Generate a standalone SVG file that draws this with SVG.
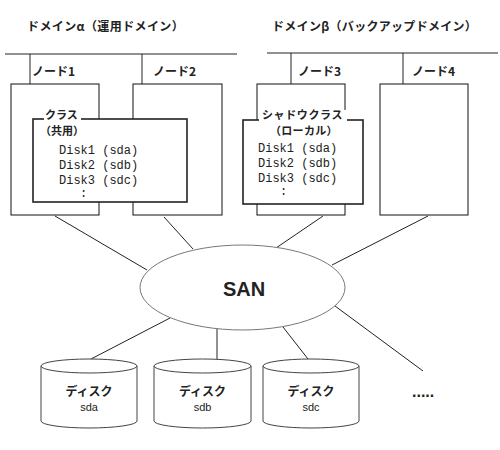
<svg xmlns="http://www.w3.org/2000/svg" width="500" height="450" viewBox="0 0 500 450">
<style>
.ln{stroke:#222;stroke-width:1;fill:none}
.box{fill:#fff;stroke:#111;stroke-width:1}
.cls{fill:#fff;stroke:#222;stroke-width:1.6}
.jp{font-family:"Noto Sans CJK JP",sans-serif;font-weight:bold;font-size:12px;fill:#222}
.jt{font-family:"Noto Sans CJK JP",sans-serif;font-weight:bold;font-size:11px;fill:#222}
.mono{font-family:"Liberation Mono",monospace;font-size:12px;fill:#222}
.cyl{fill:#fff;stroke:#444;stroke-width:1}
.san{font-family:"Liberation Sans",Arial,sans-serif;font-weight:bold;font-size:20px;fill:#222}
.small{font-family:"Liberation Sans",Arial,sans-serif;font-size:11px;fill:#222}
</style>
<rect width="500" height="450" fill="#fff"/>
<g id="domains">
<text class="jp" x="27" y="31" letter-spacing="0.4">ドメインα（運用ドメイン）</text>
<text class="jp" x="272" y="31" letter-spacing="0.3">ドメインβ（バックアップドメイン）</text>
<line class="ln" x1="5" y1="54" x2="237" y2="54"/>
<line class="ln" x1="267" y1="53" x2="498" y2="53"/>
</g>
<g id="connectors">
<line class="ln" x1="30" y1="54" x2="30" y2="84"/>
<line class="ln" x1="142" y1="54" x2="142" y2="84"/>
<line class="ln" x1="291" y1="53" x2="291" y2="84"/>
<line class="ln" x1="403" y1="53" x2="403" y2="84"/>
<line class="ln" x1="55" y1="216" x2="147" y2="270"/>
<line class="ln" x1="164" y1="217" x2="193" y2="249"/>
<line class="ln" x1="323" y1="216" x2="276" y2="248"/>
<line class="ln" x1="428" y1="216" x2="332" y2="265"/>
<line class="ln" x1="170" y1="318" x2="91" y2="359"/>
<line class="ln" x1="217" y1="329" x2="217" y2="359"/>
<line class="ln" x1="283" y1="327" x2="308" y2="359"/>
<line class="ln" x1="335" y1="306" x2="423" y2="371"/>
</g>
<g id="node1">
<rect class="box" x="11" y="84" width="88" height="131"/>
<text class="jp" x="32" y="76">ノード1</text>
</g>
<g id="node2">
<rect class="box" x="133" y="84" width="89" height="131"/>
<text class="jp" x="153" y="76">ノード2</text>
</g>
<g id="node3">
<rect class="box" x="257" y="84" width="88" height="131"/>
<text class="jp" x="298" y="76">ノード3</text>
</g>
<g id="node4">
<rect class="box" x="380" y="84" width="88" height="131"/>
<text class="jp" x="412" y="76">ノード4</text>
</g>
<g id="class-shared">
<rect class="cls" x="33" y="119" width="154" height="83"/>
<rect x="44" y="110" width="37" height="12" fill="#fff"/>
<text class="jt" x="45" y="119">クラス</text>
<text class="jt" x="40" y="135">（共用）</text>
<text class="mono" x="59" y="154">Disk1 (sda)</text>
<text class="mono" x="59" y="169">Disk2 (sdb)</text>
<text class="mono" x="59" y="184">Disk3 (sdc)</text>
<text class="mono" x="80" y="197">:</text>
</g>
<g id="class-shadow">
<rect class="cls" x="243" y="120" width="120" height="84"/>
<rect x="259" y="110" width="88" height="14" fill="#fff"/>
<text class="jt" x="262" y="119" letter-spacing="0.6">シャドウクラス</text>
<text class="jt" x="270" y="135" letter-spacing="0.3">（ローカル）</text>
<text class="mono" x="258" y="152">Disk1 (sda)</text>
<text class="mono" x="258" y="167">Disk2 (sdb)</text>
<text class="mono" x="258" y="182">Disk3 (sdc)</text>
<text class="mono" x="280" y="195">:</text>
</g>
<g id="san">
<ellipse cx="242.5" cy="287.5" rx="102.5" ry="42.5" fill="#fff" stroke="#777" stroke-width="1"/>
<text class="san" x="244" y="296" text-anchor="middle">SAN</text>
</g>
<g id="disk-sda">
<path class="cyl" d="M41,366 L41,421 A48,7 0 0 0 137,421 L137,366"/>
<ellipse class="cyl" cx="89" cy="366" rx="48" ry="7"/>
<text class="jp" x="89" y="396" text-anchor="middle">ディスク</text>
<text class="small" x="89" y="411" text-anchor="middle">sda</text>
</g>
<g id="disk-sdb">
<path class="cyl" d="M154,366 L154,421 A48.5,7 0 0 0 251,421 L251,366"/>
<ellipse class="cyl" cx="202.5" cy="366" rx="48.5" ry="7"/>
<text class="jp" x="202.5" y="396" text-anchor="middle">ディスク</text>
<text class="small" x="202.5" y="411" text-anchor="middle">sdb</text>
</g>
<g id="disk-sdc">
<path class="cyl" d="M263,366 L263,421 A48,7 0 0 0 359,421 L359,366"/>
<ellipse class="cyl" cx="311" cy="366" rx="48" ry="7"/>
<text class="jp" x="311" y="396" text-anchor="middle">ディスク</text>
<text class="small" x="311" y="411" text-anchor="middle">sdc</text>
</g>
<g id="more">
<text class="san" x="412" y="397" style="font-size:16px">.....</text>
</g>
</svg>
